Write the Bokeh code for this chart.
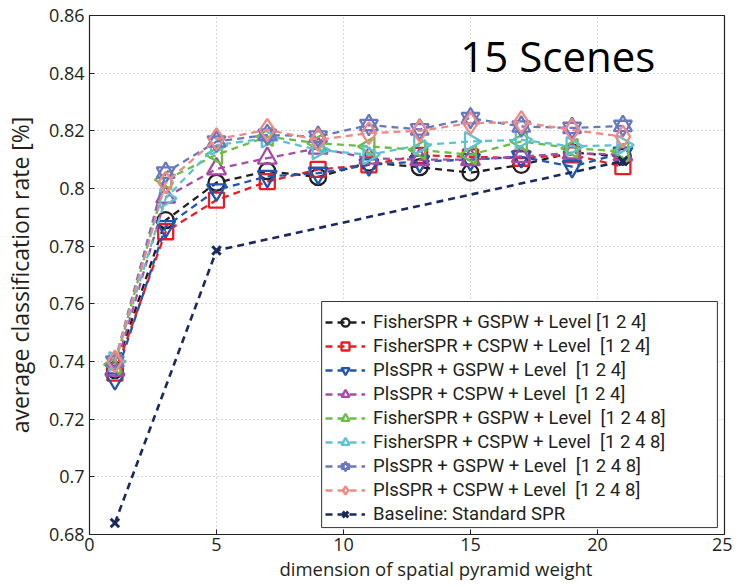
import math
from bokeh.plotting import figure
from bokeh.models import Legend, LegendItem, Label, FixedTicker, CustomJSTickFormatter, BoxAnnotation, Title
from bokeh.embed import file_html
from bokeh.resources import INLINE

x_dims = [1, 3, 5, 7, 9, 11, 13, 15, 17, 19, 21]

fisher_gspw_124 = [0.737, 0.789, 0.802, 0.806, 0.804, 0.809, 0.8074, 0.8055, 0.8082, 0.8125, 0.811]
fisher_cspw_124 = [0.736, 0.785, 0.796, 0.8024, 0.8066, 0.8082, 0.8115, 0.811, 0.8105, 0.8117, 0.8076]
pls_gspw_124 = [0.734, 0.7868, 0.7995, 0.8042, 0.8053, 0.8082, 0.8094, 0.81, 0.811, 0.8076, 0.8123]
pls_cspw_124 = [0.737, 0.797, 0.8068, 0.8105, 0.814, 0.8105, 0.81, 0.81, 0.8111, 0.8123, 0.8117]
fisher_gspw_1248 = [0.739, 0.803, 0.8117, 0.818, 0.8157, 0.8146, 0.8134, 0.8117, 0.8163, 0.814, 0.8128]
fisher_cspw_1248 = [0.740, 0.7966, 0.815, 0.8175, 0.8134, 0.8117, 0.815, 0.8163, 0.8169, 0.8146, 0.8151]
pls_gspw_1248 = [0.740, 0.8055, 0.8163, 0.8186, 0.818, 0.822, 0.8205, 0.8244, 0.8215, 0.821, 0.8217]
pls_cspw_1248 = [0.740, 0.802, 0.8171, 0.8203, 0.8169, 0.8192, 0.820, 0.8227, 0.823, 0.8203, 0.818]

baseline_x = [1, 5, 21]
baseline_y = [0.684, 0.7785, 0.8095]

labels = [
    "FisherSPR + GSPW + Level [1 2 4]",
    "FisherSPR + CSPW + Level  [1 2 4]",
    "PlsSPR + GSPW + Level  [1 2 4]",
    "PlsSPR + CSPW + Level  [1 2 4]",
    "FisherSPR + GSPW + Level  [1 2 4 8]",
    "FisherSPR + CSPW + Level  [1 2 4 8]",
    "PlsSPR + GSPW + Level  [1 2 4 8]",
    "PlsSPR + CSPW + Level  [1 2 4 8]",
    "Baseline: Standard SPR",
]

title_text = "15 Scenes"
x_label_text = "dimension of spatial pyramid weight"
y_label_text = "average classification rate [%]"
x_ticks = [0, 5, 10, 15, 20, 25]
y_ticks = [0.68, 0.70, 0.72, 0.74, 0.76, 0.78, 0.80, 0.82, 0.84, 0.86]

FONT = "Open Sans"
LFONT = "Roboto"

p = figure(width=732, height=586, x_range=(0, 25), y_range=(0.68, 0.86),
           output_backend="svg", toolbar_location=None,
           min_border_left=87, min_border_right=8, min_border_top=15, min_border_bottom=52)

p.outline_line_color = "#222222"
p.outline_line_width = 1.2
p.background_fill_color = "white"

p.xaxis.ticker = FixedTicker(ticks=x_ticks)
p.yaxis.ticker = FixedTicker(ticks=y_ticks)
p.yaxis.formatter = CustomJSTickFormatter(code="return String(Math.round(tick*100)/100);")
for ax in (p.xaxis, p.yaxis):
    ax.major_tick_in = 5
    ax.major_tick_out = 0
    ax.minor_tick_in = 0
    ax.minor_tick_out = 0
    ax.axis_line_color = "#222222"
    ax.major_tick_line_color = "#222222"
    ax.major_label_text_font = FONT
    ax.major_label_text_font_size = "18px"
    ax.major_label_text_color = "#231f20"
    ax.axis_label_text_font = FONT
    ax.axis_label_text_font_style = "normal"
    ax.axis_label_text_color = "#231f20"
p.yaxis.axis_label = y_label_text
p.yaxis.axis_label_text_font_size = "23px"
p.xaxis.major_label_standoff = 3
p.yaxis.major_label_standoff = 5
p.yaxis.axis_label_standoff = 10

p.grid.grid_line_color = "#b0b0b0"
p.grid.grid_line_dash = "1 3"
p.grid.grid_line_width = 1

series = [
    (fisher_gspw_124, "#231f20", ["circle"], 16, 0),
    (fisher_cspw_124, "#ed1c24", ["square"], 15, 0),
    (pls_gspw_124, "#1f56b0", ["inverted_triangle"], 19, 0),
    (pls_cspw_124, "#a64ca6", ["triangle"], 19, 0),
    (fisher_gspw_1248, "#6cbd45", ["triangle"], 19, math.pi / 2),
    (fisher_cspw_1248, "#5ec3d0", ["triangle"], 19, -math.pi / 2),
    (pls_gspw_1248, "#6a78c0", ["triangle", "inverted_triangle"], 18, 0),
    (pls_cspw_1248, "#f08a85", ["diamond"], 22, 0),
]

items = []
for (vals, col, markers, size, ang), lab in zip(series, labels):
    r_line = p.line(x_dims, vals, line_color=col, line_width=2.3, line_dash="7 5")
    rends = [r_line]
    for m in markers:
        r = p.scatter(x_dims, vals, marker=m, size=size, angle=ang,
                      line_color=col, line_width=2.3, fill_alpha=0)
        rends.append(r)
    items.append(LegendItem(label=lab, renderers=rends))

rb_line = p.line(baseline_x, baseline_y, line_color="#1b2a5e", line_width=2.6, line_dash="7 5")
rb_mark = p.scatter(baseline_x, baseline_y, marker="x", size=12, line_color="#1b2a5e", line_width=3)
items.append(LegendItem(label=labels[8], renderers=[rb_line, rb_mark]))

# legend frame (reference box is wider than its content)
legend_box = BoxAnnotation(left=9.14, right=24.72, bottom=0.6824, top=0.7608,
                           fill_color="white", fill_alpha=1.0,
                           line_color="#333333", line_width=1, line_alpha=1.0)
p.add_layout(legend_box)

legend = Legend(items=items, location=(233, 6))
legend.margin = 0
legend.padding = 3
legend.spacing = 2
legend.label_height = 20
legend.glyph_height = 20
legend.glyph_width = 40
legend.label_standoff = 8
legend.label_text_font = LFONT
legend.label_text_font_size = "18.5px"
legend.label_text_line_height = 1.0
legend.label_text_color = "#231f20"
legend.border_line_alpha = 0
legend.background_fill_alpha = 0
p.add_layout(legend)

title_lbl = Label(x=14.6, y=0.846, text=title_text, text_font=FONT, text_font_size="42px",
                  text_color="black", text_baseline="middle", text_align="left")
p.add_layout(title_lbl)

x_title = Title(text=x_label_text, align="left", offset=190, standoff=0,
                text_font=FONT, text_font_size="18.5px", text_font_style="normal",
                text_color="#231f20")
p.add_layout(x_title, "below")

open("out.html", "w").write(file_html(p, INLINE))
